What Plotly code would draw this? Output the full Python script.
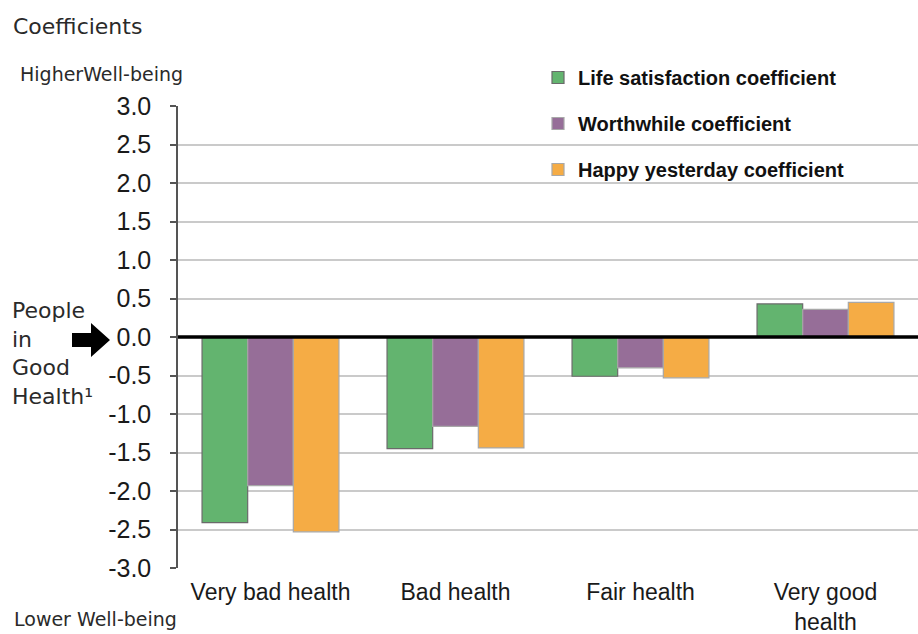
import plotly.graph_objects as go

# Health categories and regression coefficients (relative to people in good health)
categories = ["Very bad health", "Bad health", "Fair health", "Very good<br>health"]
life_satisfaction = [-2.41, -1.45, -0.51, 0.43]
worthwhile = [-1.93, -1.16, -0.40, 0.36]
happy_yesterday = [-2.53, -1.44, -0.53, 0.45]

series_names = ["Life satisfaction coefficient", "Worthwhile coefficient", "Happy yesterday coefficient"]
tick_values = [3.0, 2.5, 2.0, 1.5, 1.0, 0.5, 0.0, -0.5, -1.0, -1.5, -2.0, -2.5, -3.0]
tick_labels = ["3.0", "2.5", "2.0", "1.5", "1.0", "0.5", "0.0", "-0.5", "-1.0", "-1.5", "-2.0", "-2.5", "-3.0"]

W, H = 918, 634
ML, MR, MT, MB = 178, 0, 106, 66
PW, PH = W - ML - MR, H - MT - MB


def px_x(px):
    """Figure pixel x -> paper coordinate."""
    return (px - ML) / PW


def px_y(py):
    """Figure pixel y (from top) -> paper coordinate."""
    return (H - MB - py) / PH


SANS = "Liberation Sans, Arial, sans-serif"
WIDE = "DejaVu Sans, Verdana, sans-serif"

colors = ["#63B46F", "#966E98", "#F5AC45"]
outlines = ["#6a6a6a", "#a8a8a8", "#a8a8a8"]
values = [life_satisfaction, worthwhile, happy_yesterday]

fig = go.Figure()
for i, (name, vals) in enumerate(zip(series_names, values)):
    fig.add_trace(go.Bar(
        x=categories, y=vals, name=name,
        marker=dict(color=colors[i], line=dict(color=outlines[i], width=1.2)),
        legendgroup=f"g{i}",
    ))

fig.update_layout(
    width=W, height=H,
    margin=dict(l=ML, r=MR, t=MT, b=MB, pad=0, autoexpand=False),
    paper_bgcolor="white", plot_bgcolor="white",
    barmode="group", bargap=0.26, bargroupgap=0,
    showlegend=True,
    legend=dict(
        x=px_x(538), y=px_y(58), xanchor="left", yanchor="top",
        bgcolor="rgba(0,0,0,0)", borderwidth=0,
        font=dict(family=SANS, size=20, color="#111111", weight="bold"),
        tracegroupgap=17, itemwidth=30,
    ),
    xaxis=dict(
        showgrid=False, showline=False, ticks="",
        tickfont=dict(family=SANS, size=23, color="#1a1a1a"),
        ticklabelstandoff=8, automargin=False,
        fixedrange=True,
    ),
    yaxis=dict(
        range=[-3, 3], tickvals=tick_values, ticktext=tick_labels,
        showgrid=True, gridcolor="#cacaca", gridwidth=1.5,
        zeroline=False,
        showline=True, linecolor="#555555", linewidth=1.5,
        ticks="outside", ticklen=6, tickcolor="#555555", tickwidth=1.5,
        tickfont=dict(family=SANS, size=25, color="#1a1a1a"),
        ticklabelstandoff=14, automargin=False,
        fixedrange=True,
    ),
)

# Zero reference line drawn above the bars
fig.add_shape(type="line", xref="paper", yref="y", x0=0, x1=1, y0=0, y1=0,
              line=dict(color="black", width=3.5), layer="above")

# Block arrow pointing at the 0.0 reference level
ax0, ax1, ax2 = px_x(72), px_x(91), px_x(110)
yb0, yb1 = px_y(333), px_y(347)
yh0, yh1, yc = px_y(323), px_y(357), px_y(340)
arrow_path = (f"M {ax0},{yb0} L {ax1},{yb0} L {ax1},{yh0} L {ax2},{yc} "
              f"L {ax1},{yh1} L {ax1},{yb1} L {ax0},{yb1} Z")
fig.add_shape(type="path", xref="paper", yref="paper", path=arrow_path,
              fillcolor="black", line=dict(color="black", width=0), layer="above")

text_color = "#2a2a2a"
fig.add_annotation(text="Coefficients", xref="paper", yref="paper",
                   x=px_x(11), y=px_y(26), xanchor="left", yanchor="middle",
                   showarrow=False, font=dict(family=WIDE, size=22, color=text_color))
fig.add_annotation(text="HigherWell-being", xref="paper", yref="paper",
                   x=px_x(18), y=px_y(74), xanchor="left", yanchor="middle",
                   showarrow=False, font=dict(family=WIDE, size=19, color=text_color))
fig.add_annotation(text="Lower Well-being", xref="paper", yref="paper",
                   x=px_x(12), y=px_y(619), xanchor="left", yanchor="middle",
                   showarrow=False, font=dict(family=WIDE, size=19, color=text_color))
fig.add_annotation(text="People<br>in<br>Good<br>Health\u00b9", xref="paper", yref="paper",
                   x=px_x(10), y=px_y(353), xanchor="left", yanchor="middle", align="left",
                   showarrow=False, font=dict(family=WIDE, size=22, color=text_color))

fig.write_html("out.html")
